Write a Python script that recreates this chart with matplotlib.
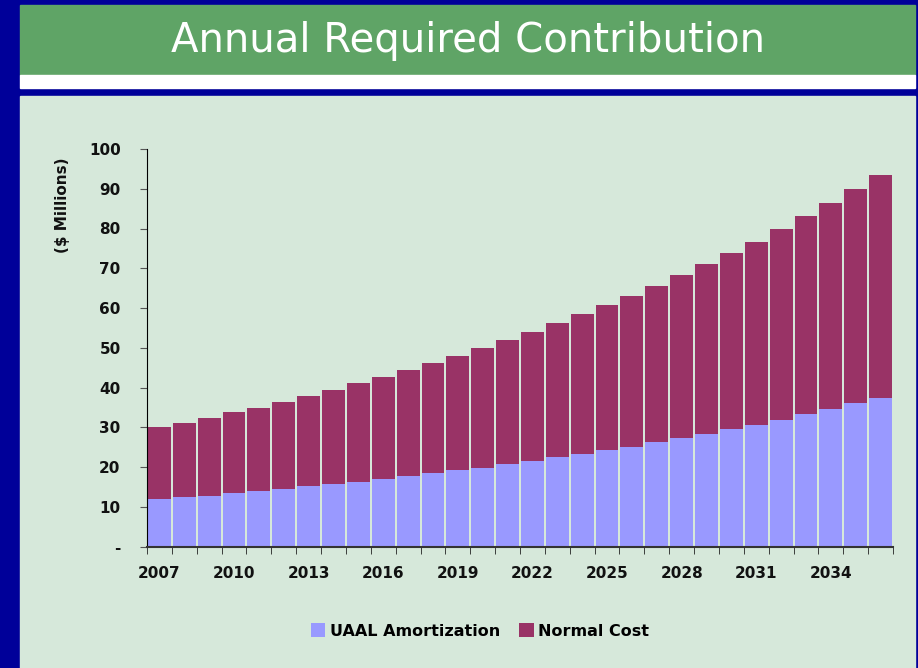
import numpy as np
import matplotlib
matplotlib.use("Agg")
import matplotlib.pyplot as plt
from matplotlib.patches import Rectangle

years = list(range(2007, 2037))
uaal = [11.9, 12.4, 12.7, 13.5, 14.0, 14.5, 15.3, 15.7, 16.2, 17.0,
        17.7, 18.5, 19.2, 19.7, 20.7, 21.5, 22.5, 23.2, 24.2, 25.0,
        26.3, 27.3, 28.3, 29.6, 30.6, 31.9, 33.4, 34.6, 36.1, 37.4]
total = [30.0, 31.1, 32.3, 33.8, 34.8, 36.3, 37.8, 39.3, 41.1, 42.6,
         44.4, 46.2, 48.0, 50.0, 52.0, 54.0, 56.2, 58.5, 60.8, 63.0,
         65.6, 68.4, 71.1, 73.9, 76.7, 79.9, 83.2, 86.5, 90.0, 93.5]
normal = [t - u for t, u in zip(total, uaal)]
yticks = [0, 10, 20, 30, 40, 50, 60, 70, 80, 90, 100]
ytick_labels = ["-"] + [str(v) for v in yticks[1:]]

W, H = 918, 668
fig = plt.figure(figsize=(W / 100, H / 100), dpi=100)
fig.patch.set_facecolor("#000099")

def box(x0, y0, x1, y1, color):
    fig.patches.append(Rectangle((x0 / W, 1 - y1 / H), (x1 - x0) / W, (y1 - y0) / H,
                                 transform=fig.transFigure, color=color, zorder=-5))

# title band, white strip, and the chart panel
box(20, 5, 915, 75, "#5FA466")
box(20, 75, 915, 88, "#FFFFFF")
box(20, 96, 915, 668, "#D6E8DA")
fig.text(468 / W, 1 - 41 / H, "Annual Required Contribution", color="white",
         fontsize=29, family="DejaVu Sans", ha="center", va="center")

ax = fig.add_axes([147 / W, 1 - 546.5 / H, (893 - 147) / W, (546.5 - 149) / H])
ax.set_facecolor("#D6E8DA")
ax.set_zorder(2)
x = np.arange(len(years))
ax.bar(x, uaal, width=0.92, color="#9999FF", label="UAAL Amortization")
ax.bar(x, normal, bottom=uaal, width=0.92, color="#993366", label="Normal Cost")

ax.set_xlim(-0.5, len(years) - 0.5)
ax.set_ylim(0, 100)
for s in ["top", "right"]:
    ax.spines[s].set_visible(False)
ax.spines["left"].set_color("black")
ax.spines["bottom"].set_color("#333333")
ax.spines["bottom"].set_linewidth(1.5)

ax.set_yticks(yticks)
ax.set_yticklabels(ytick_labels, fontsize=11, fontweight="bold", color="#111111")
ax.tick_params(axis="y", length=5, color="#555555", pad=14)

ax.set_xticks(x[::3])
ax.set_xticklabels([str(y) for y in years[::3]], fontsize=11, fontweight="bold", color="#111111")
ax.set_xticks(np.arange(-0.5, len(years)), minor=True)
ax.tick_params(axis="x", which="major", length=0, pad=14)
ax.tick_params(axis="x", which="minor", length=5, color="#222222")

fig.text(62 / W, 1 - 205 / H, "($ Millions)", rotation=90, fontsize=11,
         fontweight="bold", ha="center", va="center", color="#111111")

fig.legend(loc="center", bbox_to_anchor=(480 / W, 1 - 631 / H), ncol=2, frameon=False,
           prop={"size": 11.5, "weight": "bold"}, handlelength=0.9, handleheight=0.9,
           handletextpad=0.3, columnspacing=1.2)

fig.savefig("out.png", dpi=100, facecolor=fig.get_facecolor())
